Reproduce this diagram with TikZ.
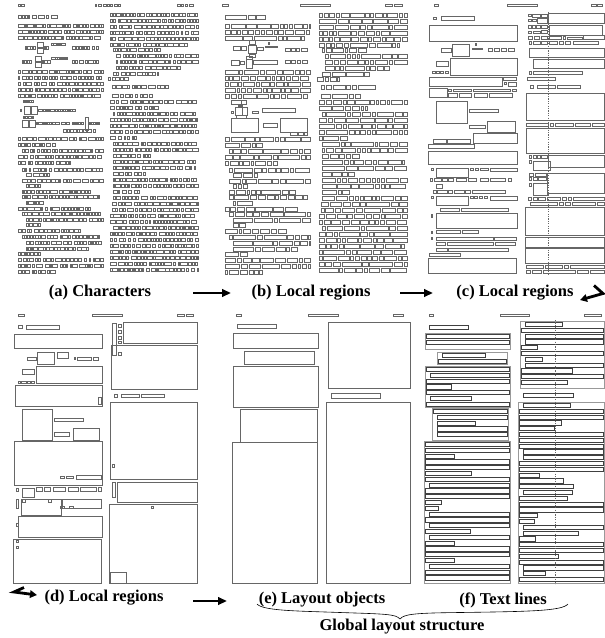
\documentclass[tikz,border=0pt]{standalone}
\usepackage{fontspec}
\setmainfont{Liberation Serif}
\usetikzlibrary{arrows.meta}
\tikzset{
 pg/.style={draw=black!60, line width=0.33pt},
 pgl/.style={draw=black!40, line width=0.5pt},
 ln/.style={draw=black!75, line width=0.33pt},
 flow/.style={line width=2.8pt, line join=miter, -{Triangle[length=9pt,width=7.5pt]}},
 captext/.style={font=\fontsize{16.5}{18}\selectfont\bfseries, inner sep=0pt},
 midline/.style={draw=black!60, line width=0.3pt, dash pattern=on 1.2pt off 1.2pt},
 bracepath/.style={draw=black, line width=0.6pt},
}
\def\ox{0}
\def\oy{0}
% row of boxes: xs xe y minw varw h gapsmall gapbig
\newcommand\boxrow[8]{%
 \pgfmathsetmacro\brxs{#1+\ox}%
 \pgfmathsetmacro\brxe{#2+\ox}%
 \pgfmathsetmacro\bry{#3+\oy}%
 \xdef\curx{\brxs}%
 \foreach \bri in {1,...,90}{%
   \pgfmathsetmacro\brw{#4+#5*rnd*rnd}%
   \pgfmathsetmacro\brnx{\curx+\brw}%
   \ifdim\brnx pt<\brxe pt
     \draw[pg] (\curx,\bry) rectangle (\brnx,\bry+#6);
     \pgfmathsetmacro\brg{rnd<0.25 ? #8 : #7}%
     \pgfmathsetmacro\brn{\brnx+\brg}%
     \xdef\curx{\brn}%
   \else
     \pgfmathsetmacro\brrem{\brxe-\curx}%
     \ifdim\brrem pt>1.2pt \draw[pg] (\curx,\bry) rectangle (\brxe,\bry+#6);\fi
     \breakforeach
   \fi
 }%
}
% text-line boxes inside a block: x1 x2 y1 y2
\newcommand\flines[4]{%
 \pgfmathsetmacro\fy{#3+1.2}%
 \xdef\fcy{\fy}%
 \foreach \fli in {1,...,40}{%
   \pgfmathsetmacro\fb{\fcy+4.2}%
   \ifdim\fb pt<#4pt
     \pgfmathsetmacro\fl{#1+1+(rnd<0.3 ? 4.5 : 0)}%
     \pgfmathsetmacro\fr{rnd<0.3 ? \fl+(#2-#1)*(0.15+0.5*rnd) : #2-1}%
     \draw[ln] (\fl,\fcy) rectangle (\fr,\fb);
     \pgfmathsetmacro\fn{\fcy+5.8}%
     \xdef\fcy{\fn}%
   \else \breakforeach \fi
 }%
}
\def\Lrows{18/58/15, 18/103/24, 18/103/30, 18/100/36, 18/103/70, 18/103/76, 18/103/82, 18/103/88, 18/100/94, 18/103/137, 18/55/143, 22/103/149, 18/103/155, 18/70/161, 22/103/168, 26/50/173, 22/103/179, 26/40/184, 22/90/190, 22/103/195, 26/45/201, 18/90/207, 22/103/212, 26/103/218, 26/40/223, 18/80/229, 22/103/235, 26/103/241, 26/90/247, 18/40/252, 18/103/258, 18/103/264, 18/55/270}
\def\Rrows{110/198/13, 110/198/19, 110/198/25, 110/198/31, 110/198/37, 110/190/43, 113/160/48, 116/198/54, 116/198/60, 116/180/66, 113/160/72, 108/130/77, 112/168/85, 112/152/94, 110/198/100, 110/158/106, 113/198/112, 110/198/118, 110/198/124, 110/198/130, 110/138/136, 113/198/142, 113/198/148, 113/150/154, 113/195/160, 113/198/166, 113/145/172, 113/198/178, 113/198/184, 113/140/190, 113/198/196, 112/198/202, 112/198/208, 110/198/214, 110/198/220, 113/198/226, 110/198/232, 110/198/238, 110/198/244, 110/198/250, 110/198/256, 110/198/262, 110/198/268}
\begin{document}
\begin{tikzpicture}[x=1pt,y=-1pt]
\pgfmathsetseed{17}
\useasboundingbox (0,0) rectangle (605,638);

% ================= (a) Characters =================
\def\ox{0}
\boxrow{18}{24}{4}{1.6}{3}{2.5}{0.9}{0.9}
\boxrow{95}{120}{4}{1.6}{4}{2.5}{0.9}{2}
\boxrow{177}{193}{4}{2}{4}{2.5}{1}{2}
\foreach \xs/\xe/\yy in \Lrows {\boxrow{\xs}{\xe}{\yy}{1.5}{6}{3}{0.8}{2.4}}
\foreach \xs/\xe/\yy in \Rrows {\boxrow{\xs}{\xe}{\yy}{1.5}{6}{3}{0.8}{2.4}}
% equations
\boxrow{25}{35}{46}{1.5}{3}{3}{0.8}{0.8}
\draw[pg] (37,42) rectangle (43,53); \draw[pg] (38,47) rectangle (42,48.5);
\boxrow{44}{50}{46}{1.5}{3}{3}{0.8}{0.8}
\boxrow{51}{67}{43}{1.2}{3}{2.2}{0.6}{0.6}
\boxrow{72}{100}{46}{1.5}{5}{3}{0.8}{2.4}
\boxrow{22}{33}{60}{1.5}{3}{3}{0.8}{0.8}
\draw[pg] (35,56) rectangle (41,67); \draw[pg] (36,61) rectangle (40,62.5);
\boxrow{42}{50}{60}{1.5}{3}{3}{0.8}{0.8}
\boxrow{51}{68}{57}{1.2}{3}{2.2}{0.6}{0.6}
\boxrow{72}{100}{60}{1.5}{5}{3}{0.8}{2.4}
% small figure
\boxrow{23}{33}{100}{1.2}{3}{2.5}{0.7}{0.7}
\draw[pg] (24,106) rectangle (30,114); \draw[pg] (31,106) rectangle (37,114);
\boxrow{20}{23}{109}{1.2}{2}{2.5}{0.7}{0.7}
\boxrow{38}{75}{109}{1.2}{4}{2.5}{0.7}{1.5}
\boxrow{23}{33}{116}{1.2}{3}{2.5}{0.7}{0.7}
\draw[pg] (22,120) rectangle (28,127); \draw[pg] (29,120) rectangle (35,127);
\boxrow{36}{70}{122}{1.2}{4}{2.5}{0.7}{1.5}
\boxrow{72}{83}{122}{1.2}{3}{2.5}{0.7}{0.7}
\draw[pg] (85,117) rectangle (88,130);
\boxrow{89}{100}{122}{1.2}{3}{2.5}{0.7}{0.7}
\boxrow{63}{95}{129}{1.5}{4}{3}{0.8}{2}

% ================= (b) Local regions (words) =================
\draw[pg] (222,4) rectangle (228,6.5); \draw[pg] (300,4) rectangle (330,6.5);
\draw[pg] (385,4) rectangle (392,6.5); \draw[pg] (394,4) rectangle (402,6.5);
\def\ox{207}
\foreach \xs/\xe/\yy in \Lrows {\boxrow{\xs}{\xe}{\yy}{2.5}{22}{4}{1.6}{1.6}}
\def\ox{209}
\foreach \xs/\xe/\yy in \Rrows {\boxrow{\xs}{\xe}{\yy}{2.5}{22}{4}{1.6}{1.6}}
\def\ox{0}
\foreach \a/\b/\c/\d in {233/46/240/50, 241/46/246/50, 249/40/255/44, 248/45/256/53, 249/54/255/57, 257/47/263/50, 265/46/277/47.5, 268/42/269.5/44, 285/48/290/51, 291/48/295/51, 296/48/299/51, 301/48/307/51,
 231/60/239/65, 240/61/244/64, 246/56/252/59, 246/59.5/252/68, 253/60/277/64, 285/60/290/63.5, 291/60/295/63.5, 297/60/300/63.5, 302/60/307/63.5,
 231/100/241/104, 241/100/246/104, 238/105/242/106.5, 235/107/242/115, 242/107/247/115, 236/115.5/246/118, 231/111/233/113, 252/111/258/113, 262/108/295/112,
 231/118/258/132, 263/123/277/127, 280/118/307/132, 290/132/297/135, 298/132/303/135, 304/132/307/135}
 {\draw[pg] (\a,\b) rectangle (\c,\d);}

% ================= (c) Local regions (merged) =================
\foreach \a/\b/\c/\d in {434/4/438/6.5, 507/4/537/6.5, 591/4/596/6.5, 597/4/602/6.5,
 433/17/436/19.5, 441/16.5/474/20, 429/25/517/41,
 441/48/451/52, 452/44/469/56, 472/48/482/49, 475/43/476.5/45, 488/48/492/51, 494/48/499/51, 501/48/506/51, 508/48/514/51,
 436/61/448/66, 450/58/517/75, 432/71/435/73, 436/71/439/73, 440/71/443/73, 445/71/448/73,
 429/77/502/86, 503/77/516/80, 508/82/516/86, 504/82/506/84,
 429/88/447/97, 448/89/451/91, 453/89/471/91, 473/89/510/91, 512/89/516/91, 448/93/457/97, 459/93/471/97, 474/93/487/97, 489/93/512/97,
 436/101/467/123, 469/109/498/112, 469/125/485/128, 487/121/515/132,
 433/139/446/143, 447/139/470/143, 473/133/517/143, 428/144/474/148,
 428/151/517/164,
 431/168/433/170, 436/168/468/177, 470/168/473/170, 475/168/478/170, 480/168/488/170, 490/168/517/171,
 430/178/432/181, 434/178/441/181, 442/178/447/181, 448/178/453/181, 456/178/466/181, 468/178/476/181, 480/178/488/181, 490/178/505/181, 508/178/511/181,
 436/184/442/188,
 433/190/436/193, 437/190/447/193, 448/190/452/193, 454/190/464/193, 465/190/470/193, 472/190/505/193,
 431/196/433/198, 436/196/468/205, 470/196/473/198, 474/196/477/198, 479/196/482/198, 484/196/487/198, 490/196/517/200,
 440/208/459/211, 461/208/508/211,
 431/214/432.5/217, 436/213/517/228,
 431/231/432.5/233, 436/230/460/233, 462/230/478/233,
 431/237/432.5/239, 436/237/493/240, 494/237/516/240,
 436/242/445/245, 447/242/493/245, 495/242/515/245,
 436/248/447/251, 448/248/508/251,
 429/253/460/256, 428/258/516/273,
 528/14/531/16, 532/14/540/17, 541/14/547/17, 548/13/604.5/23,
 528/19/531/21, 532/19/536/21, 537/18/547/23,
 528/25/531/28, 532/25/535/28, 536/25/540/28, 541/25/547/28, 549/25/602/35,
 528/31/531/33, 533/31/540/33, 541/30/547/33,
 528/36/532/39, 534/36/539/39, 541/36/547/39, 549/36/561/39, 563/36/565/39, 567/37/582/39, 583/35/604.5/39,
 529/41/531/44, 533/41/540/44, 541/41/547/44, 549/41/557/44, 559/41/563/44, 565/41/570/44, 573/41/598/44,
 529/48/604.5/57, 533/59/604.5/68,
 529/71/531/74, 533/71/582/74, 527/77/555/80,
 530/85/533/88, 537/85/555/88, 557/85/580/88,
 526/93/604.5/120,
 526/123/548/126, 550/123/553/126, 555/123/573/126, 575/123/590/126, 592/123/604.5/126,
 526/128/604.5/153,
 529/155/531/158, 533/155/536/158, 537/155/540/158, 541/155/547/158, 548/155/604.5/167, 529/160/531/163, 533/161/550/170,
 529/173/533/176, 535/173/546/176, 547/173/604.5/193, 529/177/531/180, 533/177/537/180, 538/177/546/180, 529/183/531/186, 533/183/547/195,
 528/197/531/200, 533/197/537/200, 538/197/545/200, 547/197/560/200, 562/197/566/200, 568/197/571/200, 573/197/604.5/200,
 530/202/557/205, 559/202/563/205, 565/202/570/205, 572/202/595/205, 597/202/604.5/205,
 525/207/604.5/235, 525/237/604.5/247, 525/248/604.5/263,
 526/265/543/268, 545/265/562/268, 564/265/568/268, 570/265/604.5/268,
 526/270/530/273, 532/270/541/273, 543/270/575/273, 577/270/588/273, 590/270/604.5/273}
 {\draw[pg] (\a,\b) rectangle (\c,\d);}
\draw[midline] (548,12) -- (548,274);

% ================= (d) Local regions =================
\foreach \a/\b/\c/\d in {18/314/24/316.5, 92/314/122/316.5, 177/314/184/316.5, 186/314/193/316.5,
 18/325/22/328, 26/325/59/329, 14/334/102/348,
 27/357/36/360, 37/352/54/364, 57/352/68/358, 74/357/75.5/359, 77/357/91/360, 93/357/98/360,
 22/369/34/374, 36/366/102/383, 18/381/20/383, 21/381/26/383, 27/381/30/383, 31/381/34/383,
 15/385/102/406, 98/397/101/404,
 22/409/52/440, 54/418/83/421, 54/432/69/436, 73/428/99/440,
 14/441/102/485, 60/476/64/478, 66/476/73/478, 76/475/101/479,
 16/488/18/491, 22/488/34/497, 36/487/42/491, 44/487/50/491, 53/487/65/491, 68/487/78/491, 80/487/96/491, 98/487/101/491,
 16/499/18/508, 21/499/61/515, 62/499/101/508, 22/499/25/502, 48/499/51/502, 60/506/64/508, 69/506/73/508,
 18/516/102/537, 16/523/18/526,
 13/539/101/583, 16/540/18/542, 16/546/18/548,
 112/323/116/355, 118/324/121/327, 118/330/121/333, 118/336/121/339, 118/341/121/343, 123/322/197/343,
 111/345/197/389, 118/352/121/355,
 114/394/117/397, 121/394/139/397, 141/394/164/397,
 110/402/197/479, 112/464/114/467,
 112/482/115/497, 117/482/197/502,
 109/504/197/583, 110/572/126/583, 151/506/153/508}
 {\draw[pg] (\a,\b) rectangle (\c,\d);}

% ================= (e) Layout objects =================
\foreach \a/\b/\c/\d in {236/314/241/316.5, 308/314/338/316.5, 393/314/403/316.5,
 237/324/276/328, 233/333/318/348, 244/351/314/364, 233/366/318/407, 240/409/317/442, 232/442/317/583,
 328/322/410/388, 331/393/380/398, 326/402/410/583}
 {\draw[pg] (\a,\b) rectangle (\c,\d);}

% ================= (f) Text lines =================
\foreach \a/\b/\c/\d in {429/314/433/316.5, 500/314/529/316.5, 584/314/601/316.5}
 {\draw[pg] (\a,\b) rectangle (\c,\d);}
\draw[ln] (429,325) rectangle (468,329);
\draw[ln] (523,393) rectangle (573,397);
\foreach \a/\b/\c/\d in {425/333/510/349, 437/352/507/364, 425/366/510/407, 432/408/508/440, 424/441/510/583, 520/321/604/388, 518/402/604/583}
 {\draw[pgl] (\a,\b) rectangle (\c,\d); \flines{\a}{\c}{\b}{\d}}
\draw[midline] (555,320) -- (555,584);

% ================= captions and arrows =================
\node[captext] (capa) at (100,293) {(a) Characters};
\node[captext] (capb) at (311,293) {(b) Local regions};
\node[captext] (capc) at (515,293) {(c) Local regions};
\node[captext] (capd) at (104,598) {(d) Local regions};
\node[captext] (cape) at (322,600) {(e) Layout objects};
\node[captext] (capf) at (503,600) {(f) Text lines};
\node[captext] (glob) at (402,627) {Global layout structure};

\coordinate (ab1) at (193,293); \coordinate (ab2) at (231,293);
\coordinate (bc1) at (400,293); \coordinate (bc2) at (433,293);
\coordinate (cw1) at (594,285.5); \coordinate (cw2) at (603,293.5); \coordinate (cw3) at (580,300);
\coordinate (dw1) at (24,587.5); \coordinate (dw2) at (14,592); \coordinate (dw3) at (37,595);
\coordinate (de1) at (193,601); \coordinate (de2) at (227,601);
\draw[flow] (ab1) -- (ab2);
\draw[flow] (bc1) -- (bc2);
\draw[flow,-{Triangle[length=7pt,width=7.5pt]}] (cw1) -- (cw2) -- (cw3);
\draw[flow,-{Triangle[length=7pt,width=7.5pt]}] (dw1) -- (dw2) -- (dw3);
\draw[flow] (de1) -- (de2);

% brace
\coordinate (brl) at (257,604); \coordinate (brt) at (400,619); \coordinate (brr) at (568,604);
\draw[bracepath] (brl) .. controls (263,611) and (300,611) .. (340,612.5)
  .. controls (385,614) and (396,614) .. (brt)
  .. controls (404,614) and (415,613) .. (460,612.5)
  .. controls (530,611.5) and (562,611) .. (brr);
\end{tikzpicture}
\end{document}
